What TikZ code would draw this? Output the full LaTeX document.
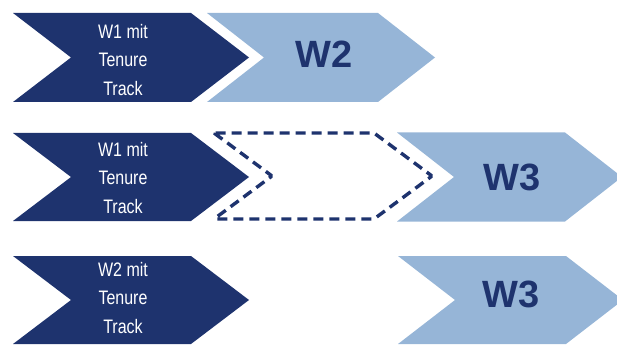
\documentclass[tikz,border=0pt]{standalone}
\usepackage{fontspec}
\setmainfont{Liberation Sans}

\definecolor{dunkel}{RGB}{30,51,110}
\definecolor{hell}{RGB}{150,181,215}

% #1 Stil, #2 linke Kante, #3 Mitte (y), #4 Laenge oben, #5 Spitze, #6 halbe Hoehe
\newcommand{\pfeil}[6]{%
  \draw[#1] (#2,#3+#6) -- ++(#4,0) -- ++(#5,-#6) -- ++(-#5,-#6) -- ++(-#4,0) -- ++(#5,#6) -- cycle;}

\begin{document}
\begin{tikzpicture}[x=1pt,y=1pt,
    dunkelpfeil/.style={fill=dunkel,draw=none},
    hellpfeil/.style={fill=hell,draw=none},
    leerpfeil/.style={fill=white,draw=dunkel,line width=3.4pt,dash pattern=on 10pt off 6pt,rounded corners=1.5pt},
    klein/.style={text=white,align=center,font=\fontsize{16}{23}\selectfont,yscale=1.22,transform shape},
    gross/.style={text=dunkel,font=\bfseries\fontsize{38}{40}\selectfont}]
    \useasboundingbox (0,0) rectangle (617,-347);
    \clip (0,0) rectangle (617,-347);

    % erste Zeile
    \pfeil{dunkelpfeil}{13}{-57.5}{178}{58}{44.5}
    \pfeil{hellpfeil}{207}{-57.5}{171}{57}{44.5}
    \node[klein] (t1) at (123,-60) {W1 mit\\Tenure\\Track};
    \node[gross] (w2) at (324,-54) {W2};

    % zweite Zeile
    \pfeil{dunkelpfeil}{13}{-177}{178}{58}{44}
    \pfeil{leerpfeil}{214}{-176}{160}{58}{43}
    \pfeil{hellpfeil}{397}{-177}{168}{57}{44.5}
    \node[klein] (t2) at (123,-178) {W1 mit\\Tenure\\Track};
    \node[gross] (w3a) at (512,-177) {W3};

    % dritte Zeile
    \pfeil{dunkelpfeil}{13}{-300}{178}{58}{44}
    \pfeil{hellpfeil}{398}{-300}{168}{57}{44}
    \node[klein] (t3) at (123,-298) {W2 mit\\Tenure\\Track};
    \node[gross] (w3b) at (511,-294) {W3};
\end{tikzpicture}
\end{document}
